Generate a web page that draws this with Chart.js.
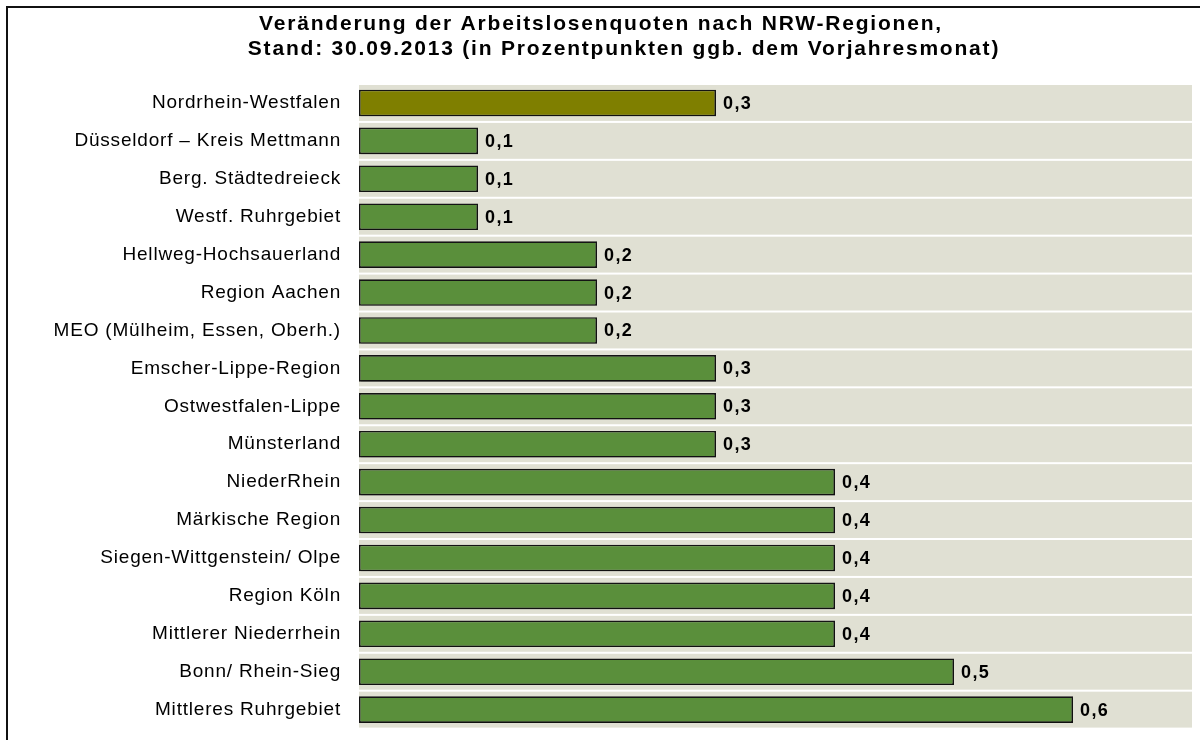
<!DOCTYPE html>
<html>
<head>
<meta charset="utf-8">
<script src="https://cdn.jsdelivr.net/npm/chart.js@4"></script>
<style>
  html, body { margin: 0; padding: 0; background: #fff; overflow: hidden; }
  .frame { position: absolute; left: 6px; top: 6px; width: 1300px; height: 800px; border: 2px solid #111; }
  .holder { position: absolute; left: 0; top: 0; width: 1200px; height: 740px; }
</style>
</head>
<body>
<div class="frame"></div>
<div class="holder"><canvas id="chart" width="1200" height="740"></canvas></div>
<script>
// Data
const regions = [
  'Nordrhein-Westfalen',
  'Düsseldorf – Kreis Mettmann',
  'Berg. Städtedreieck',
  'Westf. Ruhrgebiet',
  'Hellweg-Hochsauerland',
  'Region Aachen',
  'MEO (Mülheim, Essen, Oberh.)',
  'Emscher-Lippe-Region',
  'Ostwestfalen-Lippe',
  'Münsterland',
  'NiederRhein',
  'Märkische Region',
  'Siegen-Wittgenstein/ Olpe',
  'Region Köln',
  'Mittlerer Niederrhein',
  'Bonn/ Rhein-Sieg',
  'Mittleres Ruhrgebiet'
];
const changes = [0.3, 0.1, 0.1, 0.1, 0.2, 0.2, 0.2, 0.3, 0.3, 0.3, 0.4, 0.4, 0.4, 0.4, 0.4, 0.5, 0.6];
const titleLines = [
  'Veränderung der Arbeitslosenquoten nach NRW-Regionen,',
  'Stand: 30.09.2013 (in Prozentpunkten ggb. dem Vorjahresmonat)'
];

const olive = '#7f7f00';
const green = '#5a8f3b';
const band = '#e0e0d3';
const fontFam = '"Liberation Sans", Arial, sans-serif';

// beige stripe behind each category, bar shadow, value labels, title
const decor = {
  id: 'decor',
  beforeDraw(chart) {
    // wider tracking like the original rendering
    chart.ctx.letterSpacing = '0.8px';
  },
  beforeDatasetsDraw(chart) {
    const { ctx, chartArea, scales } = chart;
    const y = scales.y;
    const step = (y.getPixelForValue(1) - y.getPixelForValue(0));
    ctx.save();
    ctx.fillStyle = band;
    regions.forEach((r, i) => {
      const c = y.getPixelForValue(i);
      ctx.fillRect(chartArea.left, c - step / 2 + 1, chartArea.right - chartArea.left, step - 2);
    });
    ctx.restore();
    ctx.save();
    ctx.shadowColor = 'rgba(0,0,0,0.2)';
    ctx.shadowOffsetX = 2;
    ctx.shadowOffsetY = 2;
    ctx.shadowBlur = 1;
  },
  afterDatasetsDraw(chart) {
    const { ctx } = chart;
    ctx.restore();
    const meta = chart.getDatasetMeta(0);
    ctx.save();
    ctx.font = 'bold 18px ' + fontFam;
    ctx.letterSpacing = '1.4px';
    ctx.fillStyle = '#000';
    ctx.textBaseline = 'middle';
    meta.data.forEach((bar, i) => {
      ctx.fillText(changes[i].toFixed(1).replace('.', ','), bar.x + 7, bar.y + 1);
    });
    ctx.restore();
  },
  afterDraw(chart) {
    const { ctx } = chart;
    ctx.save();
    ctx.font = 'bold 21px ' + fontFam;
    ctx.letterSpacing = '1.8px';
    ctx.fillStyle = '#000';
    ctx.textAlign = 'center';
    ctx.textBaseline = 'alphabetic';
    ctx.fillText(titleLines[0], 601, 30);
    ctx.fillText(titleLines[1], 624, 55);
    ctx.restore();
  }
};

new Chart('chart', {
  type: 'bar',
  data: {
    labels: regions,
    datasets: [{
      data: changes,
      backgroundColor: changes.map((v, i) => i === 0 ? olive : green),
      borderColor: '#141414',
      borderWidth: 1.6,
      borderSkipped: false,
      categoryPercentage: 1,
      barPercentage: 0.7
    }]
  },
  options: {
    indexAxis: 'y',
    responsive: false,
    animation: false,
    layout: { padding: { left: 0, right: 8, top: 84, bottom: 11 } },
    plugins: {
      legend: { display: false },
      tooltip: { enabled: false },
      title: { display: false }
    },
    scales: {
      x: { display: false, min: 0, max: 0.7 },
      y: {
        grid: { display: false, drawTicks: true, tickLength: 18 },
        border: { display: false },
        ticks: {
          color: '#000',
          padding: 0,
          font: { family: fontFam, size: 19 }
        },
        afterFit(scale) { scale.width = 359; }
      }
    }
  },
  plugins: [decor]
});
</script>
</body>
</html>
